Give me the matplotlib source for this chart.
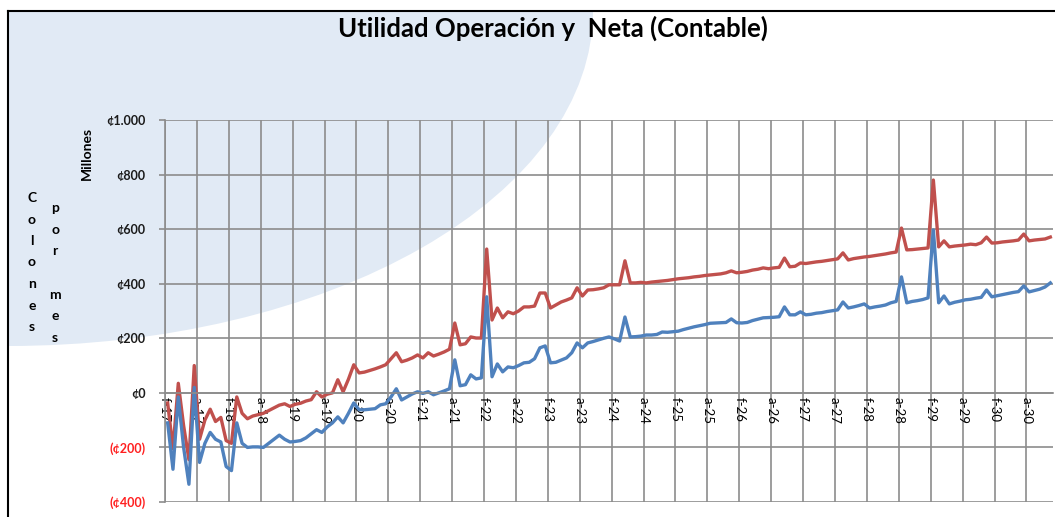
import matplotlib
matplotlib.use("Agg")
import matplotlib.pyplot as plt
import numpy as np
from matplotlib.patches import Ellipse, Rectangle
from matplotlib.lines import Line2D

# monthly values, feb-17 .. dic-30 (millones de colones)
utilidad_operacion = [
    -37, -205, 35, -120, -245, 100, -170, -100, -60, -105,
    -90, -175, -185, -15, -75, -95, -85, -80, -75, -65,
    -55, -45, -40, -50, -42, -38, -30, -25, 4, -15,
    -5, 0, 48, 4, 50, 103, 73, 76, 82, 88,
    95, 103, 125, 147, 114, 120, 128, 139, 128, 147,
    135, 142, 150, 160, 256, 176, 180, 205, 201, 201,
    527, 267, 311, 275, 297, 290, 300, 315, 315, 318,
    366, 366, 311, 322, 333, 340, 348, 385, 355, 377,
    378, 381, 385, 396, 396, 396, 484, 403, 403, 405,
    403, 406, 408, 410, 412, 415, 418, 420, 422, 425,
    427, 430, 432, 434, 436, 440, 447, 440, 442, 445,
    450, 453, 458, 455, 458, 460, 494, 462, 464, 476,
    474, 477, 480, 482, 485, 488, 491, 513, 487, 492,
    495, 498, 500, 503, 506, 509, 513, 516, 604, 524,
    525, 527, 529, 531, 780, 535, 557, 535, 538, 540,
    542, 545, 543, 550, 571, 549, 550, 553, 555, 557,
    560, 582, 557, 560, 562, 564, 571,
]
utilidad_neta = [
    -110, -280, -15, -200, -335, 20, -255, -185, -145, -170,
    -180, -270, -285, -110, -185, -200, -198, -198, -200, -185,
    -170, -155, -170, -180, -178, -175, -165, -150, -135, -145,
    -125, -110, -88, -110, -75, -37, -62, -62, -60, -58,
    -44, -40, -15, 15, -26, -15, -4, 4, -2, 4,
    -7, 0, 7, 15, 121, 26, 30, 66, 51, 55,
    352, 59, 106, 77, 95, 92, 100, 110, 112, 125,
    165, 172, 110, 112, 120, 128, 147, 183, 165, 183,
    188, 194, 200, 205, 198, 190, 278, 205, 206, 208,
    212, 212, 214, 223, 222, 224, 226, 232, 237, 242,
    246, 250, 255, 256, 257, 258, 271, 257, 256, 258,
    265, 270, 275, 276, 277, 279, 315, 286, 286, 297,
    286, 288, 292, 294, 298, 301, 304, 333, 311, 315,
    320, 326, 311, 315, 318, 322, 330, 335, 425, 330,
    335, 338, 342, 348, 597, 330, 355, 326, 332, 336,
    341, 343, 347, 350, 377, 352, 356, 360, 364, 368,
    371, 392, 370, 375, 380, 388, 403,
]
x_labels = ['f-17', 'a-17', 'f-18', 'a-18', 'f-19', 'a-19', 'f-20', 'a-20',
            'f-21', 'a-21', 'f-22', 'a-22', 'f-23', 'a-23', 'f-24', 'a-24',
            'f-25', 'a-25', 'f-26', 'a-26', 'f-27', 'a-27', 'f-28', 'a-28',
            'f-29', 'a-29', 'f-30', 'a-30']
y_ticks = [-400, -200, 0, 200, 400, 600, 800, 1000]
y_labels = ['(¢400)', '(¢200)', '¢0', '¢200', '¢400', '¢600', '¢800', '¢1.000']

plt.rcParams['font.family'] = ['Lato', 'DejaVu Sans']

W, H = 1055, 517
fig = plt.figure(figsize=(W / 100, H / 100), dpi=100)
fig.patch.set_facecolor('white')

# background swoosh + frame
clip = Rectangle((8 / W, 0), 1, 1 - 11 / H, transform=fig.transFigure)
swoosh = Ellipse((8 / W, 1 - 11 / H), 2 * 585 / W, 2 * 335 / H,
                 transform=fig.transFigure, facecolor='#E1EAF5', edgecolor='none', zorder=0)
fig.add_artist(swoosh)
swoosh.set_clip_path(clip)
fig.add_artist(Line2D([8 / W, 8 / W], [0, 1 - 11 / H], transform=fig.transFigure, color='black', lw=1.5))
fig.add_artist(Line2D([8 / W, 1], [1 - 11 / H, 1 - 11 / H], transform=fig.transFigure, color='black', lw=1.5))

ax = fig.add_axes([165 / W, 1 - 502 / H, (1053 - 165) / W, (502 - 120) / H])
ax.set_facecolor('none')

n = len(utilidad_operacion)
x = np.arange(n) + 0.5
ax.plot(x, utilidad_operacion, color='#C0504D', lw=2.4, solid_joinstyle='round')
ax.plot(x, utilidad_neta, color='#4F81BD', lw=2.4, solid_joinstyle='round')

ax.set_xlim(0, n)
ax.set_ylim(-400, 1000)
ax.set_xticks(np.arange(len(x_labels)) * 6)
ax.set_xticklabels(x_labels)
ax.set_yticks(y_ticks)
ax.set_yticklabels(y_labels, weight='bold')
for lbl, v in zip(ax.get_yticklabels(), y_ticks):
    lbl.set_color('#FF2020' if v < 0 else '#1a1a1a')

ax.grid(True, color='#8c8c8c', lw=1.2)
for s in ['top', 'right']:
    ax.spines[s].set_visible(False)
ax.spines['bottom'].set_position(('data', 0))
ax.spines['bottom'].set_color('#8c8c8c')
ax.spines['left'].set_color('#8c8c8c')
ax.spines['bottom'].set_linewidth(1.2)
ax.spines['left'].set_linewidth(1.2)
ax.tick_params(axis='x', length=0, pad=3, labelrotation=270, labelsize=9.5)
ax.tick_params(axis='y', length=4, width=1.2, color='#8c8c8c', pad=10, labelsize=9)

fig.text(553 / W, 1 - 28 / H, 'Utilidad Operación y  Neta (Contable)',
         ha='center', va='center', fontsize=18.5, weight='bold')
fig.text(87 / W, 1 - 153 / H, 'Millones', rotation=90, ha='center', va='center',
         fontsize=10, weight='bold')
for i, ch in enumerate('Colones'):
    fig.text(32 / W, 1 - (198 + 21.5 * i) / H, ch, ha='center', va='center', fontsize=10, weight='bold')
for i, ch in enumerate('por mes'):
    if ch != ' ':
        fig.text(55 / W, 1 - (208 + 21.7 * i) / H, ch, ha='center', va='center', fontsize=10, weight='bold')

fig.savefig('out.png', dpi=100, facecolor='white')
